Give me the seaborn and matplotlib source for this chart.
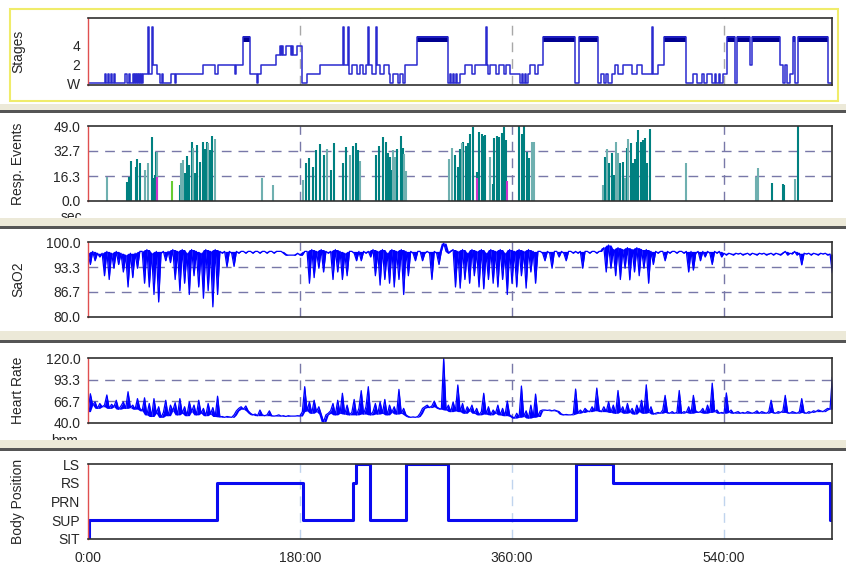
import numpy as np
import pandas as pd
import seaborn as sns
import matplotlib.pyplot as plt
from matplotlib.patches import Rectangle

sns.set_style("white")
plt.rcParams['font.family'] = ['Liberation Sans', 'DejaVu Sans']

#%% Data (time in minutes from start of recording)

# Hypnogram: 0=W, 1..4 = NREM stages, 5 = REM, 6 = movement
stage_t = [0, 14.4, 15.3, 17.0, 17.8, 19.5, 20.4, 22.1, 22.9,
           31.4, 33.1, 34.8, 35.7,
           38.2, 39.1, 39.9, 40.8, 41.6, 42.5, 43.3, 44.1, 45.0, 45.8, 46.7,
           50.9, 51.8, 54.3, 55.2, 58.6, 61.1, 62.8, 63.7,
           70.5, 73.9, 74.7,
           97.6, 107.8, 110.4, 124.8, 125.7,
           131.6, 137.5, 143.5, 144.3,
           146.9, 159.6, 163.0, 163.9, 164.7, 165.6, 168.1, 172.3, 173.2, 174.0, 177.4, 181.7,
           185.9, 197.0, 216.5, 217.3, 220.7, 221.6, 224.1, 228.4, 230.9, 233.5, 236.0, 237.7,
           238.6, 241.1, 244.5, 245.4, 247.9, 251.3, 255.5, 256.4, 258.9, 263.2, 264.9, 267.4,
           269.1, 279.3,
           305.6, 307.3, 308.2, 309.9, 310.7, 312.4, 313.3, 315.8, 320.1, 326.0, 328.6, 337.9,
           338.8, 339.6, 341.3, 346.4, 348.9, 353.2, 354.9, 358.3,
           366.8, 368.5, 369.3, 371.0, 371.9, 373.6, 375.3, 379.5, 382.1, 386.3,
           413.5, 416.9, 433.0, 435.5, 438.1, 439.8, 441.5, 444.9, 447.4, 450.0, 454.2, 461.9,
           466.1, 470.3, 478.8, 479.7, 483.9, 489.0,
           507.7, 513.6, 517.0, 521.3, 523.0, 525.5, 529.8, 532.3, 533.2, 535.7, 536.6, 539.1,
           542.5, 549.3, 551.0, 562.0, 563.7,
           587.5, 590.1, 591.8, 593.5, 596.0, 598.5, 600.2, 602.8, 628.3, 631.7]
stage_v = [0, 1, 0, 1, 0, 1, 0, 1, 0,
           1, 0, 1, 0,
           1, 0, 1, 0, 1, 0, 1, 0, 1, 0, 1,
           6, 1, 6, 2, 1, 0, 1, 0,
           1, 0, 1,
           2, 1, 2, 1, 2,
           5, 1, 0, 1,
           2, 3, 4, 3, 4, 3, 4, 3, 4, 3, 4, 0,
           1, 2, 6, 2, 6, 1, 2, 1, 2, 1, 2, 6,
           2, 1, 6, 2, 1, 2, 1, 0, 1, 0, 1, 0,
           2, 5,
           0, 1, 0, 1, 0, 1, 0, 1, 2, 1, 2, 6,
           2, 1, 2, 1, 2, 1, 2, 1,
           0, 1, 0, 1, 0, 1, 2, 1, 2, 5,
           0, 5, 0, 1, 0, 1, 0, 1, 2, 1, 2, 1,
           2, 1, 6, 1, 2, 5,
           0, 1, 0, 1, 0, 1, 0, 1, 0, 1, 0, 1,
           5, 0, 5, 2, 5,
           2, 0, 2, 0, 1, 5, 0, 5, 0, 0]

# Respiratory events: time, duration (sec), type
resp_t = [16.4, 33.4, 35.1, 36.3, 40.8, 41.9, 44.1, 48.4, 51.2, 54.1, 56.0, 56.9, 57.7, 58.8, 58.3,
          71.6, 78.1, 79.0, 80.4, 82.6, 83.8, 85.2, 86.0, 88.0, 89.3, 90.8, 92.3, 95.1, 97.3,
          99.3, 100.7, 102.1, 103.6, 105.3, 107.6, 147.5, 156.8,
          182.5, 185.1, 187.6, 191.0, 193.6, 197.0, 200.4, 202.9, 206.3, 208.9,
          216.5, 219.0, 222.4, 225.0, 227.5, 229.2, 230.9, 244.5, 247.0,
          250.7, 253.0, 255.0, 256.4, 257.8, 258.7, 260.6, 262.6, 265.5, 267.1, 268.3, 270.0,
          306.7, 308.7, 311.6, 314.4, 315.8, 317.3, 318.6, 320.9, 322.9, 324.3, 326.6, 330.0,
          330.5, 332.2, 334.2, 335.6, 337.0, 341.3, 343.6, 344.9, 347.0, 349.2, 351.1, 353.2,
          354.9, 355.5, 366.2, 368.3, 370.2, 373.0, 374.4, 376.7, 378.6,
          437.0, 438.9, 440.3, 442.6, 444.6, 446.6, 448.3, 450.2, 451.7, 453.9, 455.9, 457.3,
          458.7, 460.7, 462.4, 464.4, 465.8, 467.2, 469.2, 471.4, 472.9, 474.9, 477.1,
          507.7, 567.1, 568.6, 580.7, 589.8, 590.9, 600.5, 602.5]
resp_h = [15.9, 12.6, 15.9, 26.1, 22.0, 27.4, 24.6, 20.3, 24.6, 42.0, 15.0, 17.0, 31.8, 31.8, 16.0,
          13.3, 10.5, 24.6, 26.8, 18.1, 29.4, 18.7, 23.5, 38.4, 34.4, 18.0, 36.6, 25.7, 38.8,
          33.8, 38.4, 37.7, 33.3, 42.5, 40.3, 14.8, 10.5,
          14.0, 25.0, 28.0, 22.0, 33.0, 37.0, 30.0, 34.0, 20.0, 38.0,
          25.0, 35.0, 30.0, 36.0, 38.0, 33.0, 26.0, 30.0, 36.0,
          42.0, 38.4, 31.2, 28.8, 20.3, 33.3, 29.0, 33.8, 42.5, 34.4, 30.7, 19.6,
          27.4, 34.8, 30.0, 22.4, 34.0, 37.7, 38.8, 36.0, 37.7, 43.6, 48.6, 14.8,
          18.7, 45.3, 44.0, 42.5, 43.0, 29.0, 11.0, 41.0, 42.5, 42.0, 44.6, 48.6,
          40.0, 13.0, 49.0, 43.8, 49.0, 32.2, 28.4, 38.8, 38.8,
          10.5, 29.0, 33.8, 24.6, 31.2, 17.0, 38.8, 31.6, 24.6, 25.7, 14.8, 34.4,
          40.3, 37.7, 24.6, 27.2, 38.8, 46.4, 38.8, 40.0, 41.0, 25.0, 46.8,
          24.6, 15.9, 21.4, 12.0, 11.0, 10.5, 14.2, 49.0]
resp_type = ['H', 'A', 'A', 'A', 'A', 'A', 'A', 'H', 'H', 'A', 'A', 'A', 'A', 'H', 'M',
             'C', 'A', 'H', 'H', 'A', 'A', 'A', 'A', 'A', 'H', 'A', 'A', 'A', 'A',
             'A', 'A', 'H', 'A', 'A', 'H', 'H', 'H',
             'H', 'A', 'A', 'A', 'A', 'A', 'A', 'H', 'A', 'A',
             'A', 'A', 'H', 'A', 'A', 'A', 'H', 'A', 'A',
             'A', 'A', 'A', 'A', 'A', 'H', 'H', 'A', 'A', 'A', 'H', 'H',
             'H', 'H', 'A', 'A', 'A', 'H', 'A', 'A', 'A', 'A', 'A', 'M',
             'A', 'A', 'A', 'A', 'A', 'H', 'A', 'A', 'A', 'A', 'A', 'A',
             'A', 'M', 'A', 'A', 'A', 'A', 'A', 'H', 'H',
             'H', 'A', 'H', 'A', 'A', 'A', 'H', 'H', 'A', 'A', 'H', 'A',
             'H', 'A', 'A', 'A', 'A', 'A', 'A', 'A', 'A', 'A', 'A',
             'H', 'H', 'H', 'A', 'A', 'A', 'H', 'A']

# SaO2 (%), one value every 2 minutes
spo2 = [97, 94, 97.5, 95, 97, 96,
        97, 91, 97.5, 90, 97, 93, 97.5, 94, 97, 92, 96.5, 88, 97, 90.5, 97, 93, 97.5,
        97.5, 89, 98, 88, 97, 86, 97.5, 84, 97,
        97.5, 95, 97.5, 94.5,
        98, 90, 97.5, 87, 98, 89, 97, 86, 98, 91, 97.5, 88, 97, 85, 98, 87, 97.5, 82.7, 98, 86,
        97.5, 97, 97.5, 93.4, 97.5, 97, 93.5, 97.5, 97, 97.5, 97.5, 97, 97.5, 97.5, 97, 97.5, 97.5,
        97, 97.5, 97.5, 97, 97.5, 97.5, 97, 97.5, 97.5, 97.5, 97, 96.5, 96.5, 96.5, 96.5, 96.5, 97,
        96.5, 96.5, 97.5,
        97.5, 89, 98, 90.5, 97.5, 93, 98, 92,
        97.5, 97,
        97.5, 90, 98, 92, 97.5, 90, 97, 91, 97.5,
        97.5, 97, 95, 97.5, 95, 97.5, 97, 97.5, 96,
        98, 91, 97.5, 88.5, 98, 90, 97, 89, 98, 88, 97.5, 90, 98, 86, 97.5, 91,
        97.5, 97, 95, 97.5, 97.5, 95, 97, 97.5, 97, 90, 97.5, 97, 94, 97.5, 99.7, 97.5, 97, 97.5,
        98, 88, 97.5, 87.7, 98, 90, 97, 89, 98, 91, 97.5, 88, 98, 87.5, 97, 90, 98, 89, 97.5, 88,
        98, 90, 97, 86, 98, 89,
        97.5, 88, 98, 91, 97.5, 87.7, 98, 92, 97.5, 89, 97.5,
        97.5, 97, 95, 97.5, 97, 93, 97.5, 97.5, 96, 97.5, 97, 95, 97.5, 97.5, 97, 97.5, 97, 97.5,
        93, 97.5, 97.5, 97, 97.5, 97.5, 97, 97.5, 97.5,
        98.5, 92, 99.2, 93, 98, 91, 98.5, 90, 98, 93, 98.5, 89.9, 98, 92, 98.5, 91, 98, 93, 98, 89,
        97.5, 94,
        97.5, 97, 97.5, 97.5, 95, 97.5, 97, 97.5, 97.5, 97, 97.5, 97.5, 97, 97.5, 92, 97.5, 92.5,
        97, 97.5, 95, 97.5, 96, 97.5, 97, 94, 97.5, 97, 97.5, 96,
        97, 96.5, 97, 96.8, 96.5, 97, 96.8, 97, 96.5, 96.8, 97, 96.5, 97, 96.8, 96.5, 97, 96.8,
        97, 96.5, 96.8, 97, 96.5, 97, 96.8, 96.5, 97, 97.5, 96.5, 97, 96.8, 97.5, 96.5, 97, 93.9,
        97, 96.8, 97, 96.5, 97, 96.8, 96.5, 97, 96.8, 97, 96.5, 96.8,
        91.7]

# Heart rate (bpm), one value every 2 minutes
hr = [54, 76, 62, 66, 58, 64,
      60, 62, 74.5, 58, 63, 60, 68, 57, 61, 66, 58, 78.5, 59, 62, 57, 70, 58,
      55, 71, 50, 64, 48, 70, 52, 60, 47,
      53, 68, 49, 62,
      55, 65, 50, 70, 52, 60, 49, 66, 54, 62, 50, 68, 52, 58, 49, 64, 51, 59, 48, 73,
      47.5, 48, 47, 48, 47.5, 47, 50, 55, 58, 60, 57, 61, 55, 52, 50, 51, 49, 56, 50, 49,
      50, 55, 49, 48.5, 49, 50, 48.5, 49, 48, 49, 48.5, 48.5, 48.5, 49,
      48.6, 54, 84.7,
      55, 66, 52, 68, 54, 60, 51, 41.6,
      50, 52,
      55, 64, 50, 68, 52, 76.6, 51, 62, 50,
      53, 69, 50, 58, 79.8, 51, 60, 84.7, 50,
      54, 64, 51, 66, 52, 69, 50, 62, 53, 60, 51, 81.4, 52, 58, 50, 48,
      47, 47.5, 47, 48, 52, 58, 60, 62, 59, 61, 67, 60, 58, 57, 119.6, 56, 62, 54,
      66, 55, 86.8, 54, 64, 52, 60, 55, 62, 52, 58, 50, 54, 76.6, 51, 60, 50, 56, 52, 62,
      50, 58, 49, 67, 50, 48,
      46, 52, 47, 85.5, 48, 55, 46, 62, 47, 75.6, 48,
      55, 56, 56, 55.5, 56, 55, 56, 55, 54, 51, 50, 50.5, 50, 50, 51, 81.8, 52, 56, 53, 58,
      55, 54, 60, 55, 83, 56, 54,
      60, 54, 66, 53, 62, 52, 80, 54, 60, 52, 64, 53, 58, 51, 62, 54, 68, 52, 87, 53, 60, 51,
      52, 53, 52, 56, 74, 53, 52, 54, 52, 53, 80, 52, 54, 53, 60, 52, 74, 55, 53, 54, 58, 52,
      62, 53, 89, 54, 56, 52, 53,
      52, 77, 53, 56, 52, 53, 54, 52, 53, 52, 54, 53, 52, 53, 55, 52, 54, 53, 52, 54, 68, 53,
      52, 54, 53, 55, 74, 53, 52, 54, 53, 52, 54, 70, 53, 52, 54, 53, 55, 54, 56, 55, 54, 56,
      58, 57,
      96.6]

# Body position: 0=SIT, 1=SUP, 2=PRN, 3=RS, 4=LS
pos_t = [0, 0.5, 109.5, 182.5, 225.0, 227.5, 239.4, 270.0, 305.6, 414.3, 445.7, 630.0, 631.7]
pos_v = [0, 1, 3, 1, 3, 4, 1, 4, 1, 4, 3, 1, 1]
pos_labels = ["SIT", "SUP", "PRN", "RS", "LS"]

time_ticks = [180, 360, 540]
time_labels = ["0:00", "180:00", "360:00", "540:00"]
t_end = 631.7

df_stage = pd.DataFrame({"t": stage_t, "stage": stage_v})
df_spo2 = pd.DataFrame({"t": np.arange(len(spo2)) * 2.0, "SaO2": spo2})
df_hr = pd.DataFrame({"t": np.arange(len(hr)) * 2.0, "HR": hr})
df_pos = pd.DataFrame({"t": pos_t, "pos": pos_v})
df_resp = pd.DataFrame({"t": resp_t, "dur": resp_h, "kind": resp_type})

#%% Figure layout (pixel boxes)
W, H = 846, 568
fig = plt.figure(figsize=(W / 100, H / 100), dpi=100)
fig.patch.set_facecolor("white")


def panel(top, bottom):
    return fig.add_axes([88 / W, 1 - bottom / H, (832 - 88) / W, (bottom - top) / H])


def style(ax, vcolor="#7878a8"):
    ax.set_xlim(0, t_end)
    ax.set(xlabel=None, ylabel=None)
    for s in ["top", "right", "bottom"]:
        ax.spines[s].set_color("#303030")
        ax.spines[s].set_linewidth(1.2)
    ax.spines["left"].set_color("#e05050")
    ax.spines["left"].set_linewidth(1.0)
    ax.tick_params(axis="y", length=0, pad=5.5, labelsize=10)
    ax.tick_params(axis="x", length=0, labelbottom=False)
    for t in time_ticks:
        ax.axvline(t, color=vcolor, lw=1, ls=(0, (7, 5)), zorder=0.5)


def ylab(ax, text):
    b = ax.get_position()
    fig.text(18 / W, b.y0 + b.height / 2, text, rotation=90, ha="center", va="center", fontsize=10)


ax1 = panel(18, 85)
ax2 = panel(126, 201)
ax3 = panel(242, 317)
ax4 = panel(358, 423)
ax5 = panel(464, 539)

# Stages
sns.lineplot(data=df_stage, x="t", y="stage", drawstyle="steps-post", estimator=None,
             sort=False, color="#2a2ad0", lw=1.1, ax=ax1)
for i in range(len(stage_t) - 1):
    if stage_v[i] == 5:
        ax1.fill_between([stage_t[i], stage_t[i + 1]], 4.4, 5.05, color="#000090", lw=0)
ax1.set_ylim(-0.18, 7.0)
ax1.set_yticks([0, 2, 4], ["W", "2", "4"])
style(ax1, vcolor="#a8a8a8")
ylab(ax1, "Stages")

# Respiratory events
kind_colors = {"A": "#008080", "H": "#6fb0b0", "C": "#66cc33", "M": "#cc33cc"}
for kind, grp in df_resp.groupby("kind"):
    ax2.vlines(grp["t"], 0, grp["dur"], color=kind_colors[kind], lw=1.5, zorder=2)
ax2.set_ylim(0, 49)
ax2.set_yticks([0, 16.3, 32.7, 49], ["0.0", "16.3", "32.7", "49.0"])
for y in [16.3, 32.7]:
    ax2.axhline(y, color="#7878a8", lw=1, ls=(0, (7, 5)), zorder=0.5)
style(ax2)
ylab(ax2, "Resp. Events")
fig.text(71 / W, 1 - 217 / H, "sec", ha="center", va="center", fontsize=10, zorder=1)

# SaO2: dense trace, filled up to its local upper envelope
sns.lineplot(data=df_spo2, x="t", y="SaO2", estimator=None, sort=False,
             color="#0000ff", lw=0.9, ax=ax3)
upper = df_spo2["SaO2"].rolling(3, center=True, min_periods=1).max()
ax3.fill_between(df_spo2["t"], df_spo2["SaO2"], upper, color="#0000ff", lw=0)
ax3.set_ylim(80, 100)
ax3.set_yticks([80, 86.7, 93.3, 100], ["80.0", "86.7", "93.3", "100.0"])
for y in [86.7, 93.3]:
    ax3.axhline(y, color="#7878a8", lw=1, ls=(0, (7, 5)), zorder=0.5)
style(ax3)
ylab(ax3, "SaO2")

# Heart rate: dense trace, filled down to its local lower envelope
sns.lineplot(data=df_hr, x="t", y="HR", estimator=None, sort=False,
             color="#0000ff", lw=0.9, ax=ax4)
lower = df_hr["HR"].rolling(3, center=True, min_periods=1).min()
ax4.fill_between(df_hr["t"], lower, df_hr["HR"], color="#0000ff", lw=0)
ax4.set_ylim(40, 120)
ax4.set_yticks([40, 66.7, 93.3, 120], ["40.0", "66.7", "93.3", "120.0"])
for y in [66.7, 93.3]:
    ax4.axhline(y, color="#7878a8", lw=1, ls=(0, (7, 5)), zorder=0.5)
style(ax4)
ylab(ax4, "Heart Rate")
fig.text(65 / W, 1 - 441 / H, "bpm", ha="center", va="center", fontsize=10, zorder=1)

# Body position
sns.lineplot(data=df_pos, x="t", y="pos", drawstyle="steps-post", estimator=None,
             sort=False, color="#0a0af0", lw=2.2, ax=ax5)
ax5.set_ylim(0, 4)
ax5.set_yticks(range(5), pos_labels)
style(ax5, vcolor="#c0d4ee")
ax5.tick_params(axis="x", labelbottom=True, pad=9, labelsize=10)
ax5.set_xticks([0] + time_ticks, time_labels)
ylab(ax5, "Body Position")

# Window chrome: separators and the yellow focus frame
chrome = fig.add_axes([0, 0, 1, 1], zorder=10)
chrome.set_xlim(0, W)
chrome.set_ylim(H, 0)
chrome.axis("off")
chrome.patch.set_visible(False)
for top, bottom in [(104, 110), (218, 226), (331, 340), (440, 448)]:
    chrome.add_patch(Rectangle((0, top), W, bottom - top, color="#ece9d8", lw=0))
    chrome.add_patch(Rectangle((0, bottom), W, 2.5, color="#555555", lw=0))
chrome.add_patch(Rectangle((10, 8.5), 828, 92, fill=False, edgecolor="#f0ec6a", lw=1.5))

fig.savefig("out.png", dpi=100)
